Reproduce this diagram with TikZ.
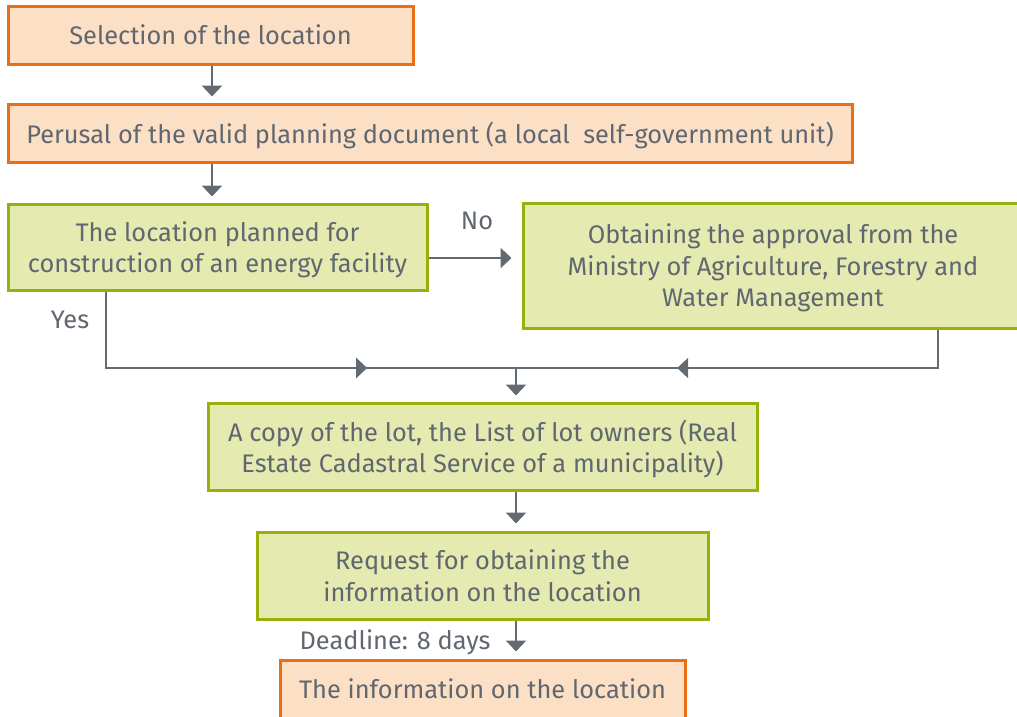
\documentclass[tikz,border=0pt]{standalone}
\usepackage{fontspec}
\setmainfont{Fira Sans}
\usepackage{xcolor}
\usetikzlibrary{arrows.meta,calc}

\definecolor{orangeline}{RGB}{235,110,20}
\definecolor{orangefill}{RGB}{252,224,197}
\definecolor{greenline}{RGB}{152,176,10}
\definecolor{greenfill}{RGB}{228,234,176}
\definecolor{textgray}{RGB}{96,103,112}
\definecolor{linegray}{RGB}{100,106,114}

\begin{document}
\begin{tikzpicture}[x=1pt, y=-1pt,
    every node/.style={font=\fontsize{25.4}{31.5}\selectfont, text=textgray},
    orangebox/.style={draw=orangeline, fill=orangefill, line width=3pt, inner sep=0pt, text depth=0pt, align=center},
    greenbox/.style={draw=greenline, fill=greenfill, line width=3pt, inner sep=0pt, text depth=0pt, align=center},
    conn/.style={draw=linegray, line width=2.5pt},
    arr/.style={conn, -{Triangle[width=20pt,length=11pt]}}]
			\useasboundingbox (0,0) rectangle (1017,716);

			\node[orangebox, minimum width=405, minimum height=58] (sel) at (210.5,35) {Selection of the location};
			\node[orangebox, minimum width=844, minimum height=58] (per) at (430,133) {Perusal of the valid planning document (a local\ \ self-government unit)};
			\node[greenbox, minimum width=419, minimum height=86] (loc) at (217.5,247) {The location planned for\\construction of an energy facility};
			\node[greenbox, minimum width=500, minimum height=125] (appr) at (773,265.5) {Obtaining the approval from the\\Ministry of Agriculture, Forestry and\\Water Management};
			\node[greenbox, minimum width=549, minimum height=87] (copy) at (482.5,446.5) {A copy of the lot, the List of lot owners (Real\\Estate Cadastral Service of a municipality)};
			\node[greenbox, minimum width=451, minimum height=87] (req) at (482.5,575.5) {Request for obtaining the\\information on the location};
			\node[orangebox, minimum width=405, minimum height=58] (info) at (482.5,689) {The information on the location};

			\node (no) at (477,221) {No};
			\node (yes) at (70,320) {Yes};
			\node[anchor=east] (deadline) at (494,642) {Deadline: 8 days};

			% junction points
			\coordinate (left) at (212,0);
			\coordinate (mid) at (516,0);
			\coordinate (yesturn) at (106,368);
			\coordinate (merge) at (516,368);
			\coordinate (noturn) at (938,368);

			\draw[arr, shorten >=6pt] (left |- sel.south) -- (left |- per.north);
			\draw[arr, shorten >=6pt] (left |- per.south) -- (left |- loc.north);
			\draw[arr, shorten >=10pt] (loc.east |- 0,258) -- (appr.west |- 0,258);

			\draw[conn] (loc.south -| yesturn) -- (yesturn) -- (merge);
			\draw[arr] (yesturn) -- ($(yesturn)!0.637!(merge)$);
			\draw[conn] (appr.south -| noturn) -- (noturn) -- (merge);
			\draw[arr] (noturn) -- ($(noturn)!0.618!(merge)$);

			\draw[arr, shorten >=6pt] (merge) -- (mid |- copy.north);
			\draw[arr, shorten >=7pt] (mid |- copy.south) -- (mid |- req.north);
			\draw[arr, shorten >=7pt] (mid |- req.south) -- (mid |- info.north);
		\end{tikzpicture}
\end{document}
